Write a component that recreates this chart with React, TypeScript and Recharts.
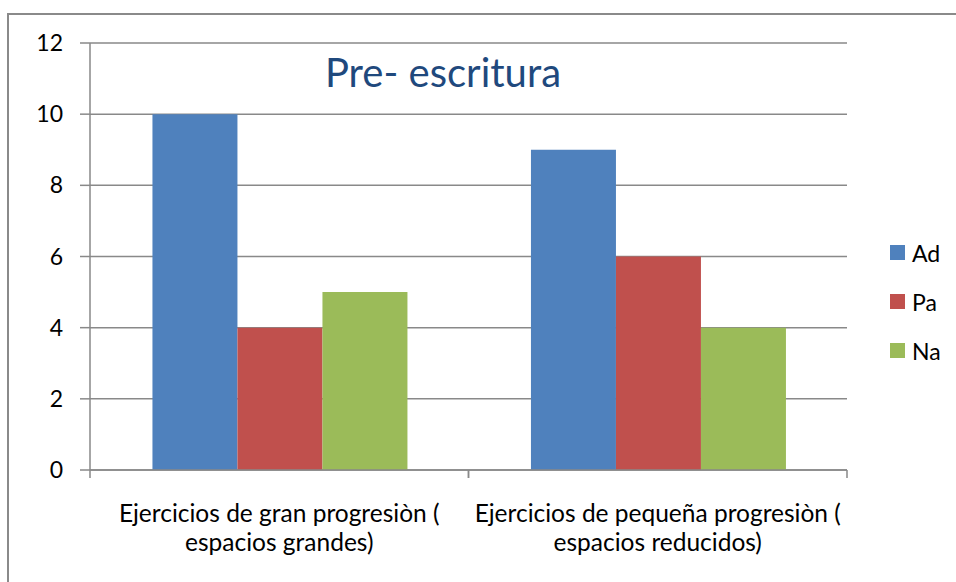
import { Bar, BarChart, CartesianGrid, Legend, XAxis, YAxis } from 'recharts'

const categories = ['Ejercicios de gran progresiòn ( espacios grandes)', 'Ejercicios de pequeña progresiòn ( espacios reducidos)']
const categoryLines = [
  ['Ejercicios de gran progresiòn (', 'espacios grandes)'],
  ['Ejercicios de pequeña progresiòn (', 'espacios reducidos)'],
]
const seriesNames = ['Ad', 'Pa', 'Na']
const adValues = [10, 9]
const paValues = [4, 6]
const naValues = [5, 4]
const yTicks = [0, 2, 4, 6, 8, 10, 12]

const FONT = 'Lato, "Open Sans", sans-serif'
const GRID = '#898989'

const data = categories.map((name, i) => ({
  name,
  Ad: adValues[i],
  Pa: paValues[i],
  Na: naValues[i],
}))

function CategoryTick(props: any) {
  const { x, y, payload, index } = props
  const half = payload?.offset ?? 0
  const lines: string[] = categoryLines[index] ?? [String(payload.value)]
  return (
    <g>
      <line x1={x - half} x2={x - half} y1={y} y2={y + 8} stroke={GRID} strokeWidth={1.5} />
      <line x1={x + half} x2={x + half} y1={y} y2={y + 8} stroke={GRID} strokeWidth={1.5} />
      <text x={x} y={y} textAnchor="middle" fill="#000" fontSize={24.5} fontFamily={FONT}>
        {lines.map((l, i) => (
          <tspan key={i} x={x} dy={i === 0 ? 52 : 29}>
            {l}
          </tspan>
        ))}
      </text>
    </g>
  )
}

function LegendBox({ payload }: any) {
  const items = [...(payload ?? [])].sort(
    (a: any, b: any) => seriesNames.indexOf(a.value) - seriesNames.indexOf(b.value),
  )
  return (
    <div style={{ width: 80, fontFamily: FONT, fontSize: 23 }}>
      {items.map((p: any) => (
        <div key={p.value} style={{ height: 49, display: 'flex', alignItems: 'center', paddingLeft: 43 }}>
          <span style={{ width: 15, height: 15, flexShrink: 0, background: p.color, display: 'inline-block', marginRight: 7 }} />
          <span style={{ color: '#000' }}>{p.value}</span>
        </div>
      ))}
    </div>
  )
}

export default function App() {
  return (
    <div style={{ position: 'absolute', left: 0, top: 0, width: 956, height: 582, background: '#fff', overflow: 'hidden' }}>
      <div
        style={{
          position: 'absolute',
          left: 7,
          top: 13,
          width: 1000,
          height: 1000,
          borderTop: '2px solid #8a8a8a',
          borderLeft: '2px solid #8a8a8a',
        }}
      />
      <div style={{ position: 'absolute', left: 0, top: 0 }}>
        <BarChart
          width={956}
          height={582}
          data={data}
          margin={{ top: 43, right: 29, bottom: 22, left: 30 }}
          barCategoryGap="16.5%"
          barGap={0}
        >
          <CartesianGrid vertical={false} stroke={GRID} strokeWidth={1.5} />
          <XAxis
            dataKey="name"
            height={90}
            tickLine={false}
            tickSize={0}
            tickMargin={0}
            axisLine={{ stroke: GRID, strokeWidth: 1.5 }}
            tick={<CategoryTick />}
            interval={0}
          />
          <YAxis
            width={60}
            domain={[0, 12]}
            ticks={yTicks}
            interval={0}
            tickSize={10}
            tickMargin={17}
            axisLine={{ stroke: GRID, strokeWidth: 1.5 }}
            tickLine={{ stroke: GRID, strokeWidth: 1.5 }}
            tick={{ fill: '#000', fontSize: 23, fontFamily: FONT }}
          />
          <Legend
            layout="vertical"
            align="right"
            verticalAlign="middle"
            width={80}
            wrapperStyle={{ top: 228 }}
            content={<LegendBox />}
          />
          <Bar dataKey="Ad" fill="#4F81BD" isAnimationActive={false} />
          <Bar dataKey="Pa" fill="#C0504D" isAnimationActive={false} />
          <Bar dataKey="Na" fill="#9BBB59" isAnimationActive={false} />
        </BarChart>
      </div>
      <div
        style={{
          position: 'absolute',
          left: 243,
          width: 400,
          top: 47,
          textAlign: 'center',
          fontFamily: FONT,
          fontSize: 40,
          color: '#1F497D',
          lineHeight: '50px',
        }}
      >
        Pre- escritura
      </div>
    </div>
  )
}
